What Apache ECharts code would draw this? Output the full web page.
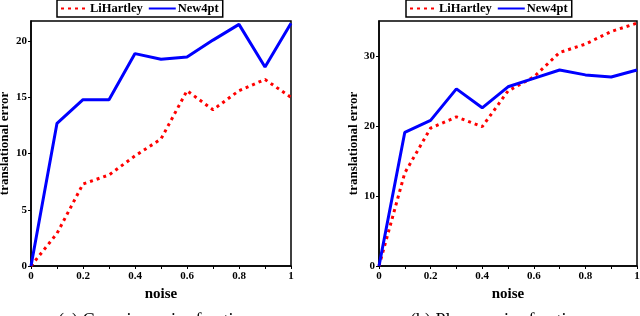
<!DOCTYPE html>
<html><head><meta charset="utf-8">
<script src="https://cdn.jsdelivr.net/npm/echarts@6/dist/echarts.min.js"></script>
<style>html,body{margin:0;padding:0;background:#fff}#c{width:640px;height:316px}</style>
</head><body><div id="c"></div>
<script>
const noise = [0, 0.1, 0.2, 0.3, 0.4, 0.5, 0.6, 0.7, 0.8, 0.9, 1.0];
const gaussLiHartley = [0, 2.9, 7.3, 8.1, 9.8, 11.3, 15.6, 13.9, 15.6, 16.6, 15.0];
const gaussNew4pt = [0, 12.7, 14.8, 14.8, 18.9, 18.4, 18.6, 20.1, 21.5, 17.7, 21.6];
const planarLiHartley = [0, 13.3, 19.7, 21.3, 19.9, 25.0, 27.0, 30.5, 31.7, 33.5, 34.7];
const planarNew4pt = [0, 19.1, 20.8, 25.3, 22.6, 25.6, 26.8, 28.0, 27.3, 27.0, 28.0];
const seriesNames = ['LiHartley', 'New4pt'];
const xTicks = [0, 0.2, 0.4, 0.6, 0.8, 1];
const captions = ['(a) Gaussian noise fraction', '(b) Planar noise fraction'];

const FONT = 'Liberation Serif';
const pair = (xs, ys) => xs.map((x, i) => [x, ys[i]]);

function xAx(gi) {
  return {
    gridIndex: gi, type: 'value', min: 0, max: 1, interval: 0.2,
    name: 'noise', nameLocation: 'middle', nameGap: 17,
    nameTextStyle: {fontFamily: FONT, fontWeight: 'bold', fontSize: 15, color: '#000'},
    axisLine: {show: true, lineStyle: {color: '#000', width: 1.5}},
    axisTick: {show: true, length: 3, lineStyle: {color: '#000'}},
    minorTick: {show: true, splitNumber: 2, length: 3, lineStyle: {color: '#000'}},
    splitLine: {show: false},
    axisLabel: {fontFamily: FONT, fontWeight: 'bold', fontSize: 11, color: '#000', margin: 5,
      formatter: v => xTicks.some(t => Math.abs(t - v) < 1e-9) ? String(+v.toFixed(1)) : ''}
  };
}
function yAx(gi, max) {
  return {
    gridIndex: gi, type: 'value', min: 0, max: max, interval: max > 30 ? 10 : 5,
    name: 'translational error', nameLocation: 'middle', nameGap: max > 30 ? 18 : 20,
    nameTextStyle: {fontFamily: FONT, fontWeight: 'bold', fontSize: 13, color: '#000'},
    axisLine: {show: true, lineStyle: {color: '#000', width: 1.5}},
    axisTick: {show: true, length: 3, lineStyle: {color: '#000'}},
    splitLine: {show: false},
    axisLabel: {fontFamily: FONT, fontWeight: 'bold', fontSize: 11, color: '#000', margin: 4,
      showMaxLabel: false,
      formatter: v => (Math.abs(v % 5) < 1e-9) ? String(v) : ''}
  };
}
function lineS(name, gi, data, dotted) {
  return {
    name: name, type: 'line', xAxisIndex: gi, yAxisIndex: gi,
    data: data, showSymbol: false, symbol: 'none', animation: false,
    lineStyle: dotted ? {color: '#ff0000', width: 3, type: [3, 4]} : {color: '#0000ff', width: 3},
    itemStyle: {color: dotted ? '#ff0000' : '#0000ff'}
  };
}
function legend(left) {
  return {
    left: left, top: 0, itemGap: 5, itemWidth: 27, itemHeight: 10, padding: [2, 4, 2, 3],
    borderColor: '#000', borderWidth: 1.5, borderRadius: 0,
    data: seriesNames, selectedMode: false,
    itemStyle: {opacity: 0},
    textStyle: {fontFamily: FONT, fontWeight: 'bold', fontSize: 12.5, color: '#000', padding: [0, 0, 0, -3]}
  };
}

const chart = echarts.init(document.getElementById('c'));
chart.setOption({
  animation: false,
  grid: [
    {left: 31, right: 349, top: 21, bottom: 50, show: true, borderColor: '#000', borderWidth: 1.5, outerBoundsMode: 'none', containLabel: false},
    {left: 379, right: 3, top: 21, bottom: 50, show: true, borderColor: '#000', borderWidth: 1.5, outerBoundsMode: 'none', containLabel: false}
  ],
  xAxis: [xAx(0), xAx(1)],
  yAxis: [yAx(0, 21.8), yAx(1, 35)],
  legend: [legend(57), legend(406)],
  series: [
    lineS(seriesNames[0], 0, pair(noise, gaussLiHartley), true),
    lineS(seriesNames[1], 0, pair(noise, gaussNew4pt), false),
    lineS(seriesNames[0], 1, pair(noise, planarLiHartley), true),
    lineS(seriesNames[1], 1, pair(noise, planarNew4pt), false)
  ],
  graphic: [
    {type: 'text', left: 58, top: 312, style: {text: captions[0], font: '18px "Liberation Serif"', fill: '#000'}},
    {type: 'text', left: 410, top: 312, style: {text: captions[1], font: '18px "Liberation Serif"', fill: '#000'}}
  ]
});
</script></body></html>
